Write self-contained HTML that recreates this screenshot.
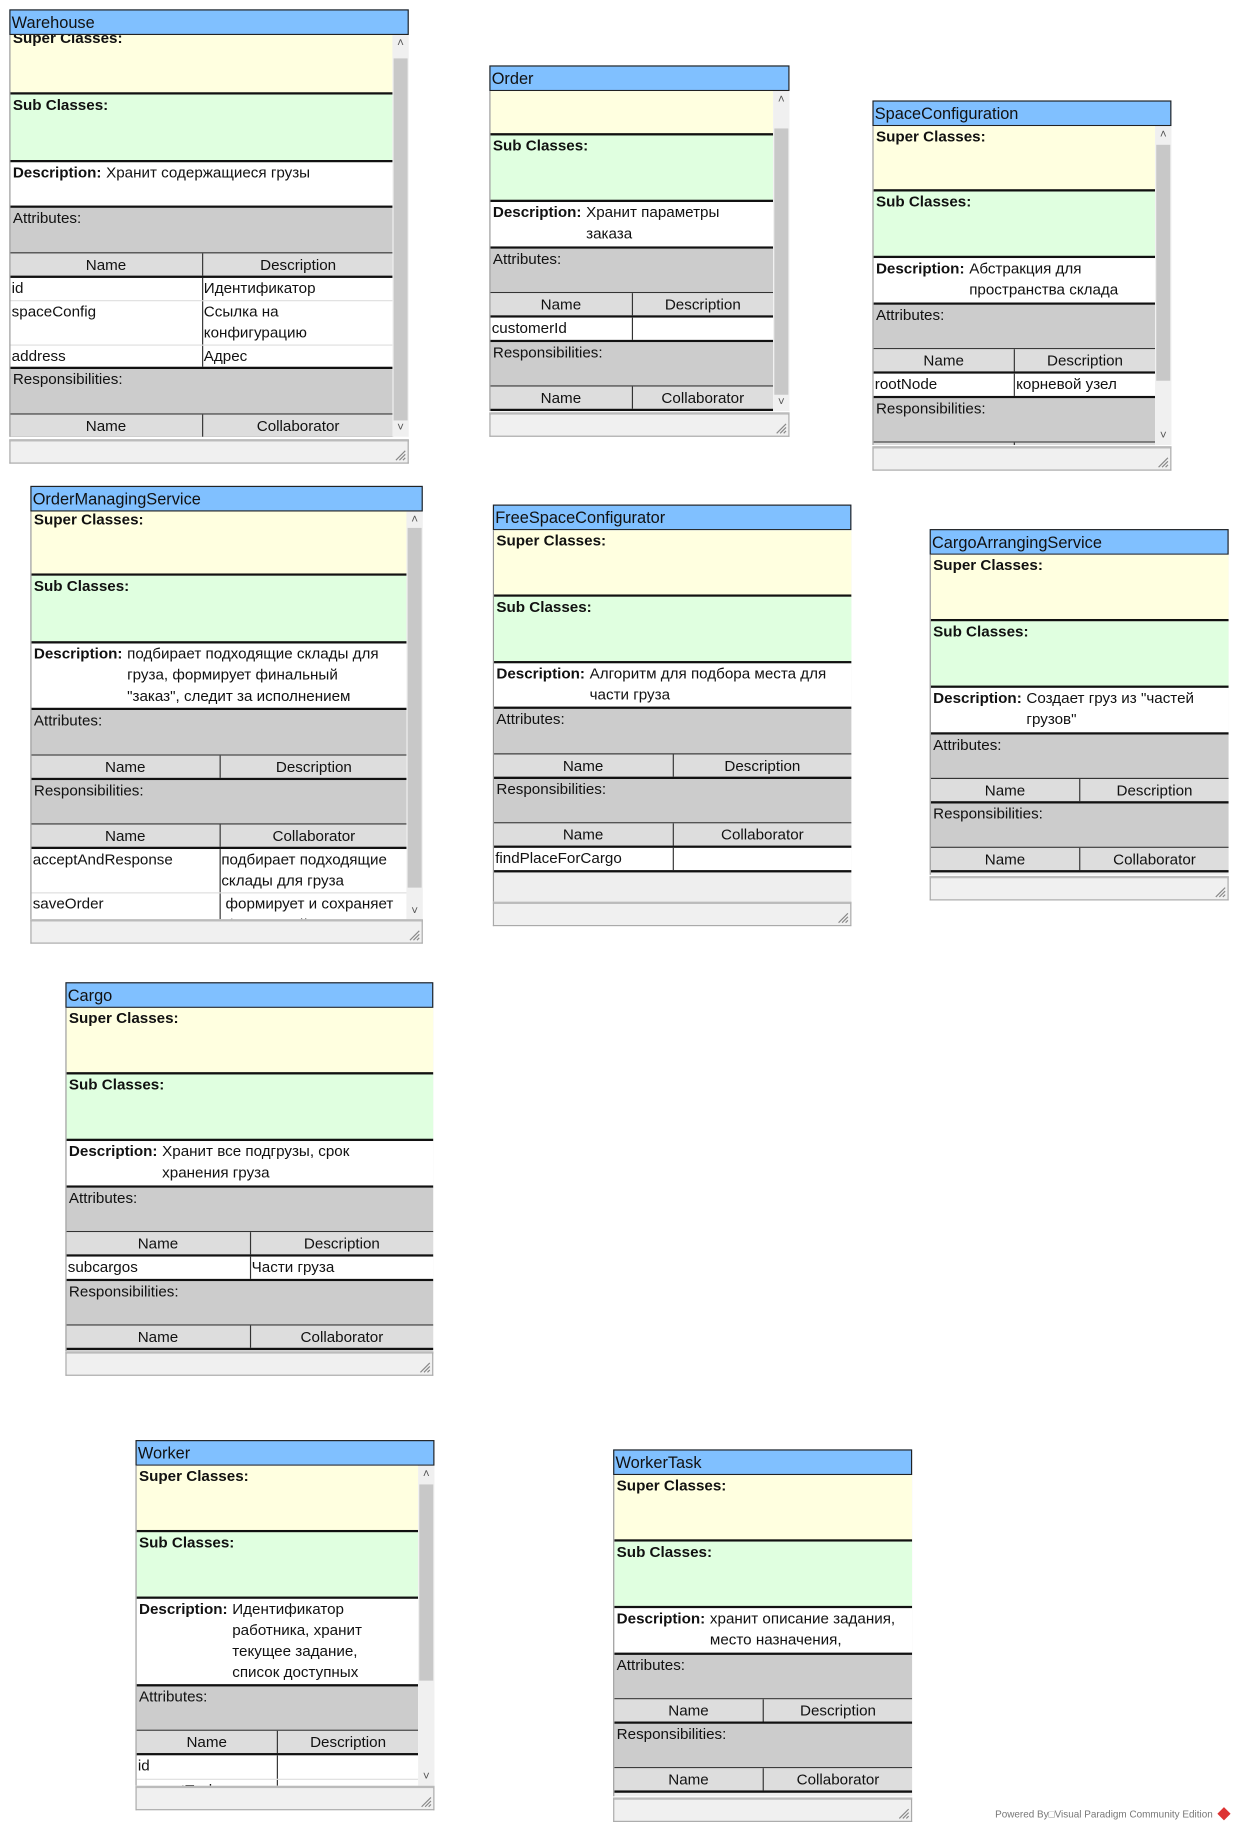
<!DOCTYPE html>
<html><head><meta charset="utf-8"><style>
html,body{margin:0;padding:0;background:#fff;width:1238px;height:1829px;overflow:hidden}
#w{position:absolute;left:0;top:0;width:1060px;height:1566px;transform:scale(1.16792);transform-origin:0 0}
.box{position:absolute;font:13px/18px "Liberation Sans","Noto Sans CJK SC",sans-serif;color:#111}
.hd{position:absolute;left:0;right:0;top:0;height:22px;box-sizing:border-box;background:#80c0ff;border:1px solid #222;padding-left:1px;line-height:20px;font-size:14px}
.vp{position:absolute;left:0;top:22px;overflow:hidden;background:#f0f0f0;border-left:1px solid #999}
.in{position:relative}
.s{box-sizing:border-box;border-bottom:2px solid #111;padding:0 2px;overflow:hidden}
.sup{background:#ffffe0;height:57px}.sub{background:#e0ffe0;height:57px}
.ds{background:#fff;display:flex}.ds b{white-space:nowrap;margin-right:4px}
.gr{background:#ccc;height:39px;border-bottom:1px solid #333}
.th{display:flex;background:#ddd;height:21px;box-sizing:border-box;border-bottom:2px solid #111}
.th div{flex:1;text-align:center;line-height:19px}
.th div:first-child,.tr div:first-child{border-right:1px solid #333}
.tr{display:flex;background:#fff;border-bottom:1px solid #ddd;box-sizing:border-box}
.tr div{flex:1;padding-left:1px;overflow:hidden}
.tr.last{border-bottom:2px solid #111}
.sb{position:absolute;right:0;width:14px;background:#f0f0f0}
.th2{position:absolute;left:1px;right:1px;background:#c8c8c8}
.ar{position:absolute;left:0;right:0;text-align:center;font-size:10px;line-height:10px;color:#555}
.ft{position:absolute;left:0;right:0;bottom:0;height:21px;box-sizing:border-box;background:#f0f0f0;border:1px solid #aaa;border-top:2px solid #bbb}
.ft svg{position:absolute;right:1px;bottom:1px}
</style></head><body><div id="w">

<!-- Warehouse -->
<div class="box" style="left:8px;top:8px;width:342px;height:389px">
<div class="hd">Warehouse</div>
<div class="vp" style="width:328px;height:344px"><div class="in" style="top:-6px">
<div class="s sup"><b>Super Classes:</b></div>
<div class="s sub" style="height:58px"><b>Sub Classes:</b></div>
<div class="s ds" style="height:39px"><b>Description:</b><span>Хранит содержащиеся грузы</span></div>
<div class="s gr">Attributes:</div>
<div class="th"><div>Name</div><div>Description</div></div>
<div class="tr" style="height:20px"><div>id</div><div>Идентификатор</div></div>
<div class="tr" style="height:38px"><div>spaceConfig</div><div>Ссылка на<br>конфигурацию</div></div>
<div class="tr last" style="height:20px"><div>address</div><div>Адрес</div></div>
<div class="s gr">Responsibilities:</div>
<div class="th"><div>Name</div><div>Collaborator</div></div>
</div></div>
<div class="sb" style="top:22px;height:344px"><div class="ar" style="top:3px">&#708;</div><div class="th2" style="top:20px;bottom:14px"></div><div class="ar" style="bottom:2px">&#709;</div></div>
<div class="ft"><svg width="10" height="10"><path d="M9 1L1 9M9 4L4 9M9 7L7 9" stroke="#888"/></svg></div>
</div>

<!-- Order -->
<div class="box" style="left:419px;top:56px;width:257px;height:318px">
<div class="hd">Order</div>
<div class="vp" style="width:242px;height:274px"><div class="in" style="top:-19px">
<div class="s sup"><b>Super Classes:</b></div>
<div class="s sub"><b>Sub Classes:</b></div>
<div class="s ds" style="height:40px"><b>Description:</b><span>Хранит параметры<br>заказа</span></div>
<div class="s gr" style="height:38px">Attributes:</div>
<div class="th"><div>Name</div><div>Description</div></div>
<div class="tr last" style="height:21px"><div>customerId</div><div></div></div>
<div class="s gr" style="height:38px">Responsibilities:</div>
<div class="th"><div>Name</div><div>Collaborator</div></div>
</div></div>
<div class="sb" style="top:22px;height:274px"><div class="ar" style="top:3px">&#708;</div><div class="th2" style="top:32px;bottom:14px"></div><div class="ar" style="bottom:2px">&#709;</div></div>
<div class="ft"><svg width="10" height="10"><path d="M9 1L1 9M9 4L4 9M9 7L7 9" stroke="#888"/></svg></div>
</div>

<!-- SpaceConfiguration -->
<div class="box" style="left:747px;top:86px;width:256px;height:317px">
<div class="hd">SpaceConfiguration</div>
<div class="vp" style="width:241px;height:273px"><div class="in">
<div class="s sup" style="height:56px"><b>Super Classes:</b></div>
<div class="s sub"><b>Sub Classes:</b></div>
<div class="s ds" style="height:40px"><b>Description:</b><span>Абстракция для<br>пространства склада</span></div>
<div class="s gr" style="height:38px">Attributes:</div>
<div class="th"><div>Name</div><div>Description</div></div>
<div class="tr last" style="height:21px"><div>rootNode</div><div>корневой узел</div></div>
<div class="s gr" style="height:38px">Responsibilities:</div>
<div class="th"><div>Name</div><div>Collaborator</div></div>
</div></div>
<div class="sb" style="top:22px;height:273px"><div class="ar" style="top:3px">&#708;</div><div class="th2" style="top:16px;bottom:55px"></div><div class="ar" style="bottom:2px">&#709;</div></div>
<div class="ft"><svg width="10" height="10"><path d="M9 1L1 9M9 4L4 9M9 7L7 9" stroke="#888"/></svg></div>
</div>

<!-- OrderManagingService -->
<div class="box" style="left:26px;top:416px;width:336px;height:392px">
<div class="hd">OrderManagingService</div>
<div class="vp" style="width:322px;height:350px"><div class="in" style="top:-2px">
<div class="s sup"><b>Super Classes:</b></div>
<div class="s sub" style="height:58px"><b>Sub Classes:</b></div>
<div class="s ds" style="height:57px"><b>Description:</b><span>подбирает подходящие склады для<br>груза, формирует финальный<br>"заказ", следит за исполнением</span></div>
<div class="s gr">Attributes:</div>
<div class="th"><div>Name</div><div>Description</div></div>
<div class="s gr" style="height:38px">Responsibilities:</div>
<div class="th"><div>Name</div><div>Collaborator</div></div>
<div class="tr" style="height:38px"><div>acceptAndResponse</div><div>подбирает подходящие<br>склады для груза</div></div>
<div class="tr" style="height:40px"><div>saveOrder</div><div>&nbsp;формирует и сохраняет<br>&nbsp;финальный "заказ"</div></div>
</div></div>
<div class="sb" style="top:22px;height:350px"><div class="ar" style="top:3px">&#708;</div><div class="th2" style="top:14px;bottom:28px"></div><div class="ar" style="bottom:2px">&#709;</div></div>
<div class="ft"><svg width="10" height="10"><path d="M9 1L1 9M9 4L4 9M9 7L7 9" stroke="#888"/></svg></div>
</div>

<!-- FreeSpaceConfigurator -->
<div class="box" style="left:422px;top:432px;width:307px;height:361px">
<div class="hd">FreeSpaceConfigurator</div>
<div class="vp" style="width:306px;height:318px;background:#eee"><div class="in">
<div class="s sup"><b>Super Classes:</b></div>
<div class="s sub"><b>Sub Classes:</b></div>
<div class="s ds" style="height:39px"><b>Description:</b><span>Алгоритм для подбора места для<br>части груза</span></div>
<div class="s gr">Attributes:</div>
<div class="th"><div>Name</div><div>Description</div></div>
<div class="s gr" style="height:38px">Responsibilities:</div>
<div class="th"><div>Name</div><div>Collaborator</div></div>
<div class="tr last" style="height:21px"><div>findPlaceForCargo</div><div></div></div>
</div></div>
<div class="ft"><svg width="10" height="10"><path d="M9 1L1 9M9 4L4 9M9 7L7 9" stroke="#888"/></svg></div>
</div>

<!-- CargoArrangingService -->
<div class="box" style="left:796px;top:453px;width:256px;height:318px">
<div class="hd">CargoArrangingService</div>
<div class="vp" style="width:255px;height:274px;background:#eee"><div class="in">
<div class="s sup"><b>Super Classes:</b></div>
<div class="s sub"><b>Sub Classes:</b></div>
<div class="s ds" style="height:40px"><b>Description:</b><span>Создает груз из "частей<br>грузов"</span></div>
<div class="s gr" style="height:38px">Attributes:</div>
<div class="th"><div>Name</div><div>Description</div></div>
<div class="s gr" style="height:38px">Responsibilities:</div>
<div class="th"><div>Name</div><div>Collaborator</div></div>
</div></div>
<div class="ft"><svg width="10" height="10"><path d="M9 1L1 9M9 4L4 9M9 7L7 9" stroke="#888"/></svg></div>
</div>

<!-- Cargo -->
<div class="box" style="left:56px;top:841px;width:315px;height:337px">
<div class="hd">Cargo</div>
<div class="vp" style="width:314px;height:294px;background:#eee"><div class="in">
<div class="s sup"><b>Super Classes:</b></div>
<div class="s sub"><b>Sub Classes:</b></div>
<div class="s ds" style="height:40px"><b>Description:</b><span>Хранит все подгрузы, срок<br>хранения груза</span></div>
<div class="s gr" style="height:38px">Attributes:</div>
<div class="th"><div>Name</div><div>Description</div></div>
<div class="tr last" style="height:21px"><div>subcargos</div><div>Части груза</div></div>
<div class="s gr" style="height:38px">Responsibilities:</div>
<div class="th"><div>Name</div><div>Collaborator</div></div>
</div></div>
<div class="ft"><svg width="10" height="10"><path d="M9 1L1 9M9 4L4 9M9 7L7 9" stroke="#888"/></svg></div>
</div>

<!-- Worker -->
<div class="box" style="left:116px;top:1233px;width:256px;height:317px">
<div class="hd">Worker</div>
<div class="vp" style="width:241px;height:274px"><div class="in">
<div class="s sup"><b>Super Classes:</b></div>
<div class="s sub"><b>Sub Classes:</b></div>
<div class="s ds" style="height:75px"><b>Description:</b><span>Идентификатор<br>работника, хранит<br>текущее задание,<br>список доступных</span></div>
<div class="s gr" style="height:38px">Attributes:</div>
<div class="th"><div>Name</div><div>Description</div></div>
<div class="tr" style="height:21px"><div>id</div><div></div></div>
<div class="tr" style="height:21px"><div>currentTask</div><div></div></div>
</div></div>
<div class="sb" style="top:22px;height:274px"><div class="ar" style="top:3px">&#708;</div><div class="th2" style="top:16px;bottom:90px"></div><div class="ar" style="bottom:2px">&#709;</div></div>
<div class="ft"><svg width="10" height="10"><path d="M9 1L1 9M9 4L4 9M9 7L7 9" stroke="#888"/></svg></div>
</div>

<!-- WorkerTask -->
<div class="box" style="left:525px;top:1241px;width:256px;height:319px">
<div class="hd">WorkerTask</div>
<div class="vp" style="width:255px;height:275px;background:#eee"><div class="in">
<div class="s sup"><b>Super Classes:</b></div>
<div class="s sub"><b>Sub Classes:</b></div>
<div class="s ds" style="height:40px"><b>Description:</b><span>хранит описание задания,<br>место назначения,</span></div>
<div class="s gr" style="height:38px">Attributes:</div>
<div class="th"><div>Name</div><div>Description</div></div>
<div class="s gr" style="height:38px">Responsibilities:</div>
<div class="th"><div>Name</div><div>Collaborator</div></div>
</div></div>
<div class="ft"><svg width="10" height="10"><path d="M9 1L1 9M9 4L4 9M9 7L7 9" stroke="#888"/></svg></div>
</div>

<div style="position:absolute;left:852px;top:1547px;font:8.5px/12px 'Liberation Sans',sans-serif;color:#777;white-space:nowrap">Powered By&#9633;Visual Paradigm Community Edition <span style="display:inline-block;width:8px;height:8px;background:#d33;transform:rotate(45deg);vertical-align:-1px;margin-left:3px"></span></div>

</div></body></html>
